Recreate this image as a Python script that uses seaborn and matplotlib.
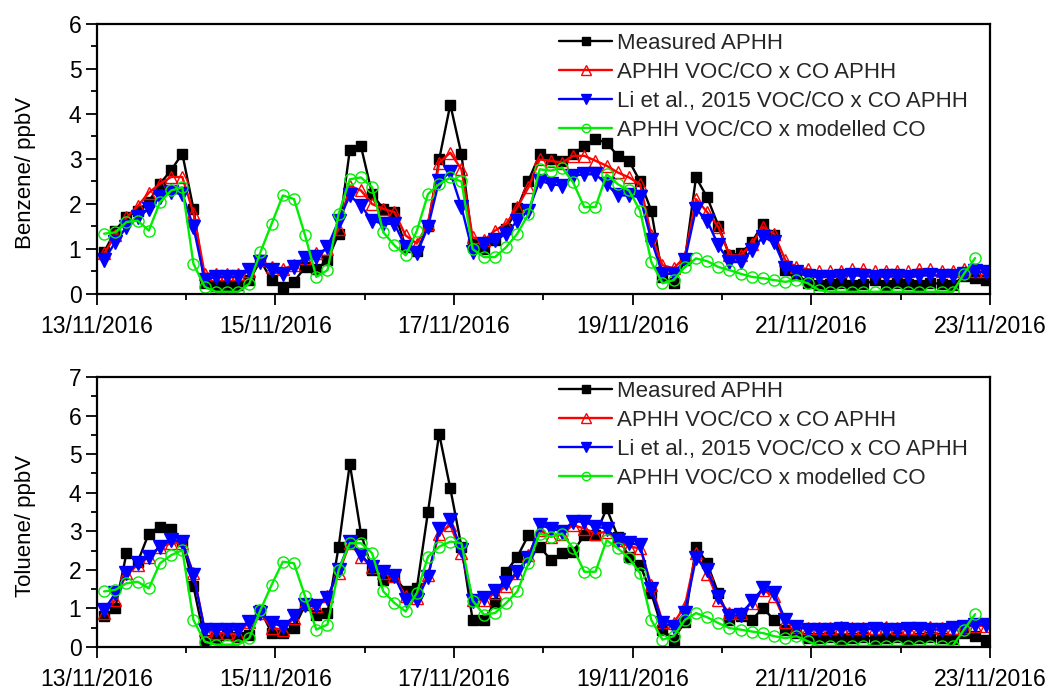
import numpy as np
import pandas as pd
import matplotlib
matplotlib.use("Agg")
import matplotlib.pyplot as plt
import matplotlib.dates as mdates
import seaborn as sns

# 3-hourly samples, 13/11/2016 02:00 onwards
times = pd.date_range("2016-11-13 02:00", periods=80, freq="3h")

series_labels = [
    "Measured APHH",
    "APHH VOC/CO x CO APHH",
    "Li et al., 2015 VOC/CO x CO APHH",
    "APHH VOC/CO x modelled CO",
]

# ---------------- Benzene (ppbV) ----------------
benzene_measured = [
    0.93, 1.41, 1.71, 1.85, 2.05, 2.45, 2.75, 3.12, 1.89, 0.24,
    0.18, 0.18, 0.20, 0.30, 0.75, 0.30, 0.16, 0.27, 0.60, 0.55,
    0.75, 1.34, 3.20, 3.28, 2.22, 1.89, 1.82, 1.05, 0.95, 1.50,
    2.99, 4.21, 3.10, 1.10, 1.00, 1.20, 1.45, 1.90, 2.52, 3.10,
    3.00, 2.96, 3.10, 3.29, 3.44, 3.36, 3.07, 2.96, 2.50, 1.85,
    0.38, 0.24, 0.75, 2.59, 2.15, 1.52, 0.86, 0.90, 1.15, 1.56,
    1.30, 0.53, 0.45, 0.24, 0.20, 0.22, 0.25, 0.20, 0.22, 0.30,
    0.20, 0.25, 0.22, 0.20, 0.25, 0.22, 0.20, 0.40, 0.35, 0.30,
]
benzene_aphh_ratio = [
    0.90, 1.30, 1.70, 1.95, 2.25, 2.45, 2.60, 2.60, 1.80, 0.45,
    0.45, 0.45, 0.45, 0.50, 0.75, 0.60, 0.55, 0.65, 0.80, 0.90,
    1.00, 1.45, 2.40, 2.30, 2.00, 1.89, 1.82, 1.30, 1.12, 1.56,
    2.92, 3.14, 2.77, 1.26, 1.19, 1.41, 1.56, 1.93, 2.37, 2.99,
    2.96, 2.92, 3.07, 3.07, 2.96, 2.85, 2.70, 2.59, 2.44, 1.30,
    0.64, 0.57, 0.82, 2.11, 1.82, 1.49, 0.86, 0.86, 1.12, 1.49,
    1.34, 0.75, 0.60, 0.55, 0.50, 0.50, 0.52, 0.55, 0.55, 0.50,
    0.50, 0.52, 0.50, 0.55, 0.55, 0.50, 0.52, 0.55, 0.50, 0.50,
]
benzene_li_ratio = [
    0.75, 1.15, 1.49, 1.71, 1.89, 2.15, 2.26, 2.22, 1.49, 0.31,
    0.38, 0.38, 0.38, 0.53, 0.71, 0.53, 0.45, 0.60, 0.79, 0.82,
    1.04, 1.63, 2.19, 1.96, 1.63, 1.56, 1.56, 1.04, 0.90, 1.49,
    2.52, 2.70, 1.93, 0.93, 1.12, 1.19, 1.34, 1.63, 1.85, 2.52,
    2.44, 2.41, 2.63, 2.66, 2.66, 2.44, 2.19, 2.19, 2.15, 1.20,
    0.45, 0.45, 0.75, 1.89, 1.63, 1.08, 0.71, 0.71, 0.97, 1.27,
    1.15, 0.57, 0.49, 0.40, 0.38, 0.38, 0.40, 0.42, 0.40, 0.38,
    0.40, 0.40, 0.38, 0.40, 0.42, 0.40, 0.40, 0.45, 0.50, 0.48,
]
benzene_modelled_co = [
    1.34, 1.37, 1.60, 1.63, 1.41, 2.04, 2.30, 2.37, 0.67, 0.16,
    0.05, 0.05, 0.05, 0.23, 0.93, 1.56, 2.19, 2.11, 1.30, 0.38,
    0.53, 1.78, 2.55, 2.59, 2.37, 1.37, 1.08, 0.86, 1.40, 2.22,
    2.44, 2.59, 2.50, 1.00, 0.82, 0.82, 1.04, 1.34, 1.78, 2.77,
    2.74, 2.81, 2.48, 1.93, 1.93, 2.66, 2.44, 2.30, 1.85, 0.71,
    0.24, 0.31, 0.60, 0.79, 0.73, 0.60, 0.53, 0.45, 0.38, 0.35,
    0.31, 0.27, 0.31, 0.24, 0.09, 0.05, 0.05, 0.05, 0.05, 0.05,
    0.05, 0.05, 0.05, 0.05, 0.05, 0.05, 0.05, 0.45, 0.80, np.nan,
]

# ---------------- Toluene (ppbV) ----------------
toluene_measured = [
    0.79, 1.01, 2.43, 2.20, 2.94, 3.12, 3.05, 2.75, 1.57, 0.19,
    0.23, 0.30, 0.25, 0.30, 0.96, 0.36, 0.36, 0.49, 1.09, 0.84,
    0.88, 2.60, 4.75, 2.94, 2.00, 1.74, 1.83, 1.44, 1.52, 3.50,
    5.53, 4.11, 2.60, 0.70, 0.70, 1.14, 1.95, 2.34, 2.90, 2.60,
    2.26, 2.43, 2.47, 2.90, 2.90, 3.59, 2.86, 2.34, 2.13, 1.39,
    0.45, 0.19, 0.66, 2.60, 2.17, 1.39, 0.70, 0.79, 0.70, 1.01,
    0.70, 0.45, 0.36, 0.23, 0.22, 0.25, 0.20, 0.22, 0.25, 0.20,
    0.22, 0.25, 0.20, 0.22, 0.25, 0.22, 0.20, 0.36, 0.28, 0.19,
]
toluene_aphh_ratio = [
    0.88, 1.22, 1.91, 2.13, 2.34, 2.60, 2.69, 2.69, 1.91, 0.45,
    0.36, 0.36, 0.32, 0.66, 0.88, 0.49, 0.45, 0.75, 1.14, 1.05,
    1.31, 1.91, 2.69, 2.34, 2.08, 1.91, 1.83, 1.31, 1.27, 1.87,
    2.94, 3.16, 2.43, 1.22, 1.22, 1.39, 1.57, 1.91, 2.38, 3.03,
    2.86, 2.94, 3.16, 3.07, 2.94, 2.99, 2.77, 2.60, 2.56, 1.60,
    0.66, 0.62, 1.05, 2.43, 1.90, 1.22, 0.88, 0.88, 1.14, 1.48,
    1.31, 0.66, 0.53, 0.50, 0.48, 0.50, 0.52, 0.50, 0.48, 0.50,
    0.52, 0.50, 0.48, 0.50, 0.52, 0.50, 0.50, 0.52, 0.55, 0.55,
]
toluene_li_ratio = [
    0.96, 1.39, 1.91, 2.17, 2.34, 2.60, 2.77, 2.73, 1.87, 0.45,
    0.45, 0.45, 0.45, 0.66, 0.88, 0.62, 0.53, 0.79, 1.09, 1.05,
    1.27, 2.00, 2.73, 2.38, 2.08, 1.95, 1.83, 1.22, 1.22, 1.82,
    3.07, 3.29, 2.51, 1.18, 1.27, 1.44, 1.65, 1.95, 2.30, 3.16,
    3.07, 2.99, 3.25, 3.25, 3.12, 3.07, 2.77, 2.69, 2.64, 1.50,
    0.62, 0.53, 0.88, 2.30, 2.00, 1.30, 0.79, 0.84, 1.18, 1.52,
    1.39, 0.70, 0.53, 0.45, 0.45, 0.45, 0.47, 0.45, 0.45, 0.47,
    0.45, 0.45, 0.47, 0.47, 0.45, 0.45, 0.50, 0.53, 0.58, 0.58,
]
toluene_modelled_co = [
    1.44, 1.48, 1.65, 1.69, 1.52, 2.17, 2.38, 2.51, 0.70, 0.14,
    0.06, 0.06, 0.06, 0.23, 0.96, 1.61, 2.21, 2.17, 1.31, 0.45,
    0.58, 2.00, 2.69, 2.69, 2.43, 1.44, 1.14, 0.92, 1.40, 2.34,
    2.60, 2.73, 2.69, 1.20, 0.84, 0.88, 1.14, 1.44, 2.17, 2.94,
    2.86, 2.94, 2.56, 1.95, 1.95, 2.77, 2.56, 2.30, 1.91, 0.70,
    0.19, 0.28, 0.70, 0.88, 0.77, 0.62, 0.49, 0.45, 0.40, 0.36,
    0.28, 0.23, 0.28, 0.15, 0.03, 0.03, 0.03, 0.03, 0.03, 0.03,
    0.03, 0.03, 0.03, 0.03, 0.03, 0.03, 0.03, 0.45, 0.85, np.nan,
]

sns.set_theme(style="white")
plt.rcParams["font.family"] = ["Liberation Sans", "DejaVu Sans"]
plt.rcParams["axes.linewidth"] = 1.6

styles = [
    dict(color="#000000", marker="s", markersize=7.5, markerfacecolor="#000000",
         markeredgecolor="#000000", markeredgewidth=1.0),
    dict(color="#ff0000", marker="^", markersize=9, markerfacecolor="none",
         markeredgecolor="#ff0000", markeredgewidth=1.0),
    dict(color="#0000ff", marker="v", markersize=9.5, markerfacecolor="#0000ff",
         markeredgecolor="#0000ff", markeredgewidth=1.0),
    dict(color="#00ee00", marker="o", markersize=8, markerfacecolor="none",
         markeredgecolor="#00ee00", markeredgewidth=1.0),
]

fig = plt.figure(figsize=(10.51, 6.89), dpi=100)
ax_top = fig.add_axes([0.0920, 0.5733, 0.8500, 0.3919])
ax_bot = fig.add_axes([0.0920, 0.0610, 0.8500, 0.3919])

panels = [
    (ax_top, [benzene_measured, benzene_aphh_ratio, benzene_li_ratio, benzene_modelled_co],
     "Benzene/ ppbV", 6, 0.975),
    (ax_bot, [toluene_measured, toluene_aphh_ratio, toluene_li_ratio, toluene_modelled_co],
     "Toluene/ ppbV", 7, 0.995),
]

for ax, values, ylabel, ymax, legend_top in panels:
    for vals, lab, st in zip(values, series_labels, styles):
        sns.lineplot(x=times, y=np.asarray(vals, dtype=float), ax=ax, label=lab,
                     linewidth=1.7, **st)
    ax.set_xlim(pd.Timestamp("2016-11-13"), pd.Timestamp("2016-11-23"))
    ax.set_ylim(0, ymax)
    ax.set_yticks(range(0, ymax + 1))
    ax.set_yticks(np.arange(0.5, ymax, 1.0), minor=True)
    ax.xaxis.set_major_locator(mdates.DayLocator(bymonthday=range(1, 32, 2)))
    ax.xaxis.set_minor_locator(mdates.DayLocator())
    ax.xaxis.set_major_formatter(mdates.DateFormatter("%d/%m/%Y"))
    ax.tick_params(axis="both", which="major", direction="out", length=8, width=1.3,
                   labelsize=16.5, color="black", labelcolor="black",
                   bottom=True, left=True, top=False, right=False)
    ax.tick_params(axis="both", which="minor", direction="out", length=4.5, width=1.3,
                   color="black", bottom=True, left=True, top=False, right=False)
    ax.tick_params(axis="x", which="major", pad=7)
    ax.tick_params(axis="y", which="major", pad=3)
    for sp in ax.spines.values():
        sp.set_color("black")
        sp.set_linewidth(1.6)
    ax.set_xlabel("")
    ax.set_ylabel(ylabel, fontsize=16, color="black")
    ax.yaxis.set_label_coords(-0.068, 0.45)
    ax.legend(loc="upper left", bbox_to_anchor=(0.515, legend_top), frameon=False,
              fontsize=16, handlelength=2.4, handletextpad=0.2, markerscale=0.75,
              labelspacing=0.36, borderpad=0.1, borderaxespad=0.0)

fig.savefig("out.png", dpi=100)
